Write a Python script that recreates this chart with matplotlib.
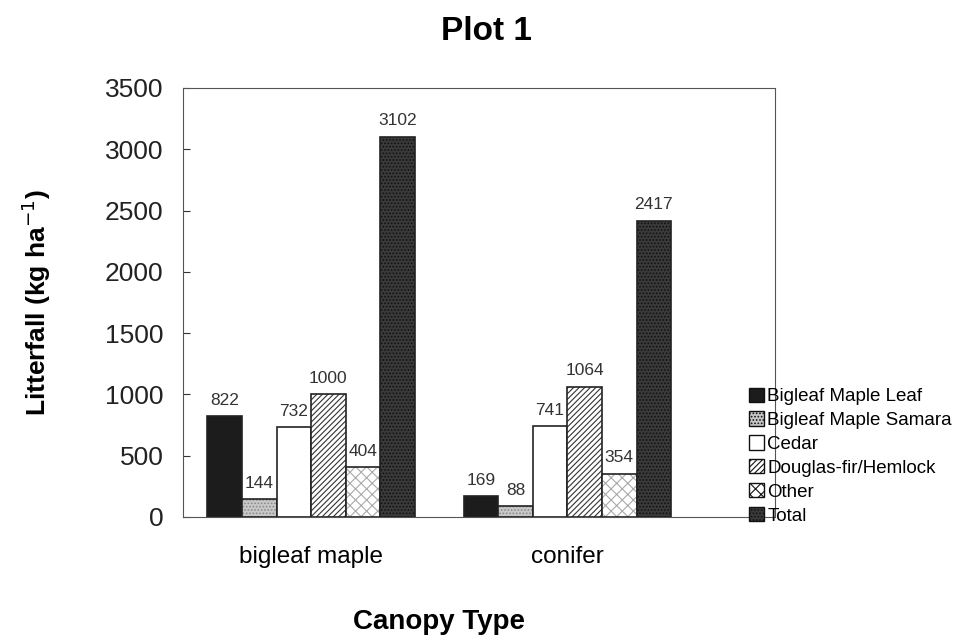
import matplotlib
matplotlib.use('Agg')
import matplotlib.pyplot as plt
import numpy as np

plt.rcParams['font.family'] = ['Liberation Sans', 'DejaVu Sans']
plt.rcParams['hatch.linewidth'] = 0.8

canopy = ['bigleaf maple', 'conifer']
series = ['Bigleaf Maple Leaf', 'Bigleaf Maple Samara', 'Cedar',
          'Douglas-fir/Hemlock', 'Other', 'Total']
leaf = [822, 169]
samara = [144, 88]
cedar = [732, 741]
douglas = [1000, 1064]
other = [404, 354]
total = [3102, 2417]

values = [leaf, samara, cedar, douglas, other, total]
faces = ['#1c1c1c', '#c8c8c8', 'white', 'white', 'white', '#3a3a3a']
hatches = ['', '.....', '', '//////', 'xxx', '.....']
hatch_cols = ['#1c1c1c', '#8a8a8a', '#222222', '#333333', '#aaaaaa', '#111111']

fig = plt.figure(figsize=(9.68, 6.41), dpi=100)
ax = fig.add_axes([183/968, 1-517/641, (775-183)/968, (517-88)/641])

x = np.arange(len(canopy))
w = 0.135
for i, (vals, name) in enumerate(zip(values, series)):
    pos = x + (i - 2.5) * w
    ax.bar(pos, vals, w, facecolor=faces[i], hatch=hatches[i],
           edgecolor=hatch_cols[i], linewidth=0, label=name)
    ax.bar(pos, vals, w, facecolor='none', edgecolor='#222222', linewidth=1.2)
    for p, v in zip(pos, vals):
        ax.text(p, v + 70, str(v), ha='center', va='bottom', fontsize=12.5, color='#333333')

ax.set_xlim(-0.5, 1.81)
ax.set_ylim(0, 3500)
ax.set_yticks(np.arange(0, 3501, 500))
ax.set_xticks(x)
ax.set_xticklabels(canopy, fontsize=17.5)
ax.tick_params(axis='y', direction='in', length=5, labelsize=19, pad=14, colors='#333333')
ax.tick_params(axis='y', labelcolor='#222222')
ax.tick_params(axis='x', length=0, pad=21)
for s in ax.spines.values():
    s.set_color('#555555')

ax.set_ylabel('Litterfall (kg ha$^{-1}$)', fontsize=19, fontweight='bold')
ax.yaxis.set_label_coords((36 - 183) / 592, 0.5)
ax.yaxis.label.set_va('center')
ax.set_xlabel('Canopy Type', fontsize=20, fontweight='bold')
ax.xaxis.set_label_coords((439 - 183) / 592, -(622 - 517) / 429)
ax.xaxis.label.set_va('center')
fig.suptitle('Plot 1', fontsize=24, fontweight='bold', x=0.503, y=0.975)

handles, labels = ax.get_legend_handles_labels()
leg = fig.legend(handles, labels, loc='upper left', bbox_to_anchor=(741/968, 1-380/641),
                 frameon=False, fontsize=13.5, handlelength=0.8, handleheight=0.8,
                 handletextpad=0.2, labelspacing=0.33, borderaxespad=0)
for h in leg.legend_handles:
    h.set_linewidth(1)
    h.set_edgecolor('#111111')

fig.savefig('out.png', dpi=100)
